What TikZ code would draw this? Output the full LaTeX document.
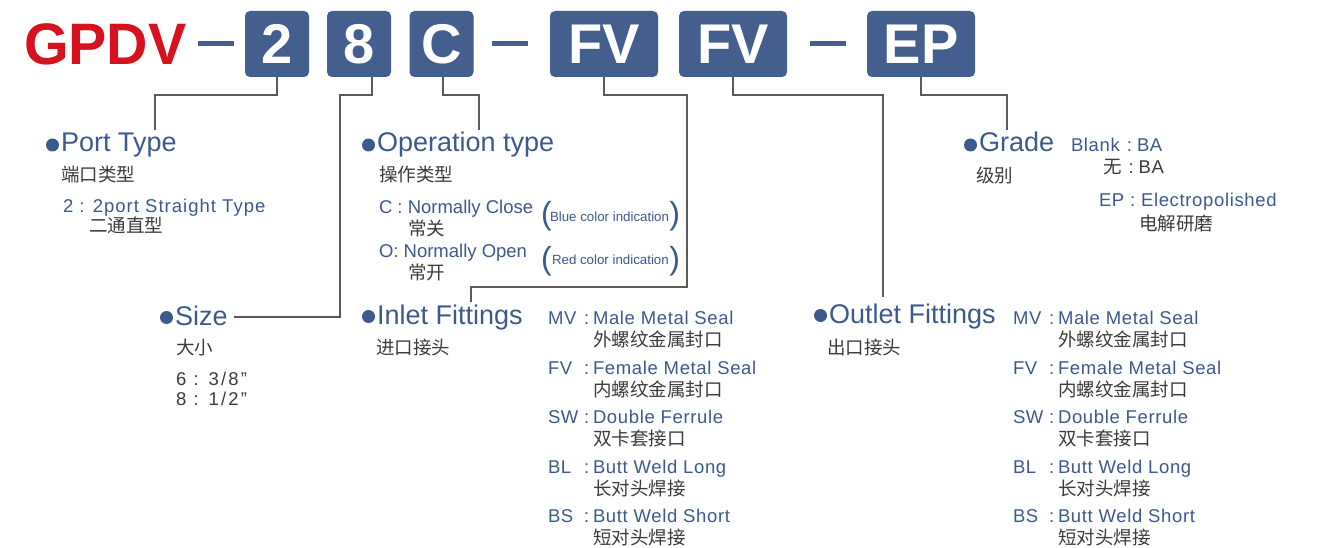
\documentclass[tikz,border=0pt]{standalone}
\usepackage{fontspec}
\setmainfont{Liberation Sans}
\newfontfamily\lsfont[LetterSpace=3.5]{Liberation Sans}
\newfontfamily\lswide[LetterSpace=5.5]{Liberation Sans}
\newfontfamily\lsvwide[LetterSpace=12]{Liberation Sans}
\newfontfamily\cjk{Noto Sans CJK SC}
\newfontfamily\hdfont[FakeStretch=0.98]{Liberation Sans}
\newcommand\fsz[1]{\fontsize{#1}{#1}\selectfont}
\definecolor{tblue}{HTML}{3D5A8C}
\definecolor{bfill}{HTML}{445F8E}
\definecolor{gpred}{HTML}{D5121E}
\definecolor{tgray}{HTML}{3C3C3C}
\definecolor{lgray}{HTML}{5A5A5A}
\begin{document}
\begin{tikzpicture}[x=1pt,y=-1pt,
  every node/.style={inner sep=0pt,outer sep=0pt},
  codebox/.style={fill=bfill,rounded corners=5pt,minimum width=#1,minimum height=66pt,
    text=white,font=\bfseries\fsz{56},text height=40pt,text depth=0pt},
  dashbar/.style={fill=bfill,minimum width=36pt,minimum height=5pt},
  conn/.style={draw=lgray,line width=1.4pt},
  bul/.style={circle,fill=tblue,minimum size=13pt},
  head/.style={anchor=base west,text=tblue,font=\fsz{27}},
  cn/.style={anchor=base west,text=tgray,font=\cjk\fsz{18.5}},
  item/.style={anchor=base west,text=tblue,font=\lsfont\fsz{18.5}},
  itemn/.style={anchor=base west,text=tblue,font=\fsz{18.5}},
  small/.style={anchor=base west,text=tblue,font=\fsz{13.3}},
  paren/.style={text=tblue,font=\fsz{32}}]
\fill[white] (0,0) rectangle (1319,548);
\useasboundingbox (0,0) rectangle (1319,548);

% header
\node[anchor=base west,text=gpred,font=\hdfont\bfseries\fsz{58.5}] (gpdv) at (24,65) {GPDV};
\node[dashbar] (d1) at (216,44) {};
\node[codebox=64pt] (b2) at (277,44) {2};
\node[codebox=64pt] (b8) at (359,44) {8};
\node[codebox=64pt] (bC) at (441.5,44) {C};
\node[dashbar] (d2) at (509.5,44) {};
\node[codebox=108pt] (bF1) at (604,44) {FV};
\node[codebox=108pt] (bF2) at (733,44) {FV};
\node[dashbar] (d3) at (827.5,44) {};
\node[codebox=108pt] (bEP) at (921,44) {EP};

% connector ends
\coordinate (ptEnd) at (155,130);
\coordinate (szEnd) at (234,317);
\coordinate (opEnd) at (479,130);
\coordinate (inEnd) at (471,302);
\coordinate (outEnd) at (883,297);
\coordinate (grEnd) at (1007,130);

\draw[conn] (b2.south) -- (277,95) -- (155,95) -- (ptEnd);
\draw[conn] (b8.south -| 372,0) -- (372,95) -- (340,95) -- (340,317) -- (szEnd);
\draw[conn] (443,77) -- (443,95) -- (479,95) -- (opEnd);
\draw[conn] (bF1.south) -- (604,95) -- (687,95) -- (687,287) -- (471,287) -- (inEnd);
\draw[conn] (bF2.south) -- (733,95) -- (883,95) -- (outEnd);
\draw[conn] (bEP.south) -- (921,95) -- (1007,95) -- (grEnd);

% Port type
\node[bul] (ptb) at (52.5,145) {};
\node[head] (pt) at (61,152) {Port Type};
\node[cn] (ptc) at (61,182) {端口类型};
\node[anchor=base west,text=tblue,font=\lswide\fsz{18.5}] (pt2) at (63,212) {2 : 2port Straight Type};
\node[cn] (pt2c) at (89,233) {二通直型};

% Size
\node[bul] (szb) at (166.5,317.5) {};
\node[head] (sz) at (175,325) {Size};
\node[cn] (szc) at (176,354) {大小};
\node[anchor=base west,text=tgray,font=\lsvwide\fsz{18.5}] (sz6) at (176,385) {6 : 3/8”};
\node[anchor=base west,text=tgray,font=\lsvwide\fsz{18.5}] (sz8) at (176,405) {8 : 1/2”};

% Operation type
\node[bul] (opb) at (368.5,145) {};
\node[head] (op) at (377,152) {Operation type};
\node[cn] (opc) at (379,182) {操作类型};
\node[itemn] (opC) at (379,213) {C : Normally Close};
\node[cn] (opCc) at (408,235) {常关};
\node[paren,anchor=base west] (pl1) at (541,225) {(};
\node[small] (bci) at (550,221) {Blue color indication};
\node[paren,anchor=base east] (pr1) at (680,225) {)};
\node[itemn] (opO) at (379,257) {O: Normally Open};
\node[cn] (opOc) at (408,279) {常开};
\node[paren,anchor=base west] (pl2) at (541,269) {(};
\node[small] (rci) at (552,264) {Red color indication};
\node[paren,anchor=base east] (pr2) at (680,269) {)};

% Inlet fittings
\node[bul] (inb) at (368.5,316.5) {};
\node[head] (inl) at (377,324) {Inlet Fittings};
\node[cn] (inc) at (376,354) {进口接头};
\foreach \lab/\en/\zh [count=\i from 0] in
  {MV/Male Metal Seal/外螺纹金属封口,FV/Female Metal Seal/内螺纹金属封口,
   SW/Double Ferrule/双卡套接口,BL/Butt Weld Long/长对头焊接,BS/Butt Weld Short/短对头焊接}{
  \node[item] (inL\i) at (548,324.5+49.5*\i) {\lab};
  \node[item] (inK\i) at (584,324.5+49.5*\i) {:};
  \node[item] (inE\i) at (593,324.5+49.5*\i) {\en};
  \node[cn] (inZ\i) at (593,346.5+49.5*\i) {\zh};
}

% Outlet fittings
\node[bul] (outb) at (820.5,315.5) {};
\node[head] (outl) at (829,323) {Outlet Fittings};
\node[cn] (outc) at (827,354) {出口接头};
\foreach \lab/\en/\zh [count=\i from 0] in
  {MV/Male Metal Seal/外螺纹金属封口,FV/Female Metal Seal/内螺纹金属封口,
   SW/Double Ferrule/双卡套接口,BL/Butt Weld Long/长对头焊接,BS/Butt Weld Short/短对头焊接}{
  \node[item] (outL\i) at (1013,324.5+49.5*\i) {\lab};
  \node[item] (outK\i) at (1049,324.5+49.5*\i) {:};
  \node[item] (outE\i) at (1058,324.5+49.5*\i) {\en};
  \node[cn] (outZ\i) at (1058,346.5+49.5*\i) {\zh};
}

% Grade
\node[bul] (grb) at (970.5,145) {};
\node[head] (gr) at (979,152) {Grade};
\node[cn] (grc) at (976,183) {级别};
\node[item] (grB) at (1071,152) {Blank\hspace{7pt}:\hspace{5pt}BA};
\node[anchor=base west,text=tgray,font=\lsfont\fsz{18.5}] (grW) at (1103,174) {{\cjk 无}\hspace{7pt}:\hspace{5pt}BA};
\node[item] (grE) at (1099,207) {EP : Electropolished};
\node[cn] (grEc) at (1139,230) {电解研磨};
\end{tikzpicture}
\end{document}
